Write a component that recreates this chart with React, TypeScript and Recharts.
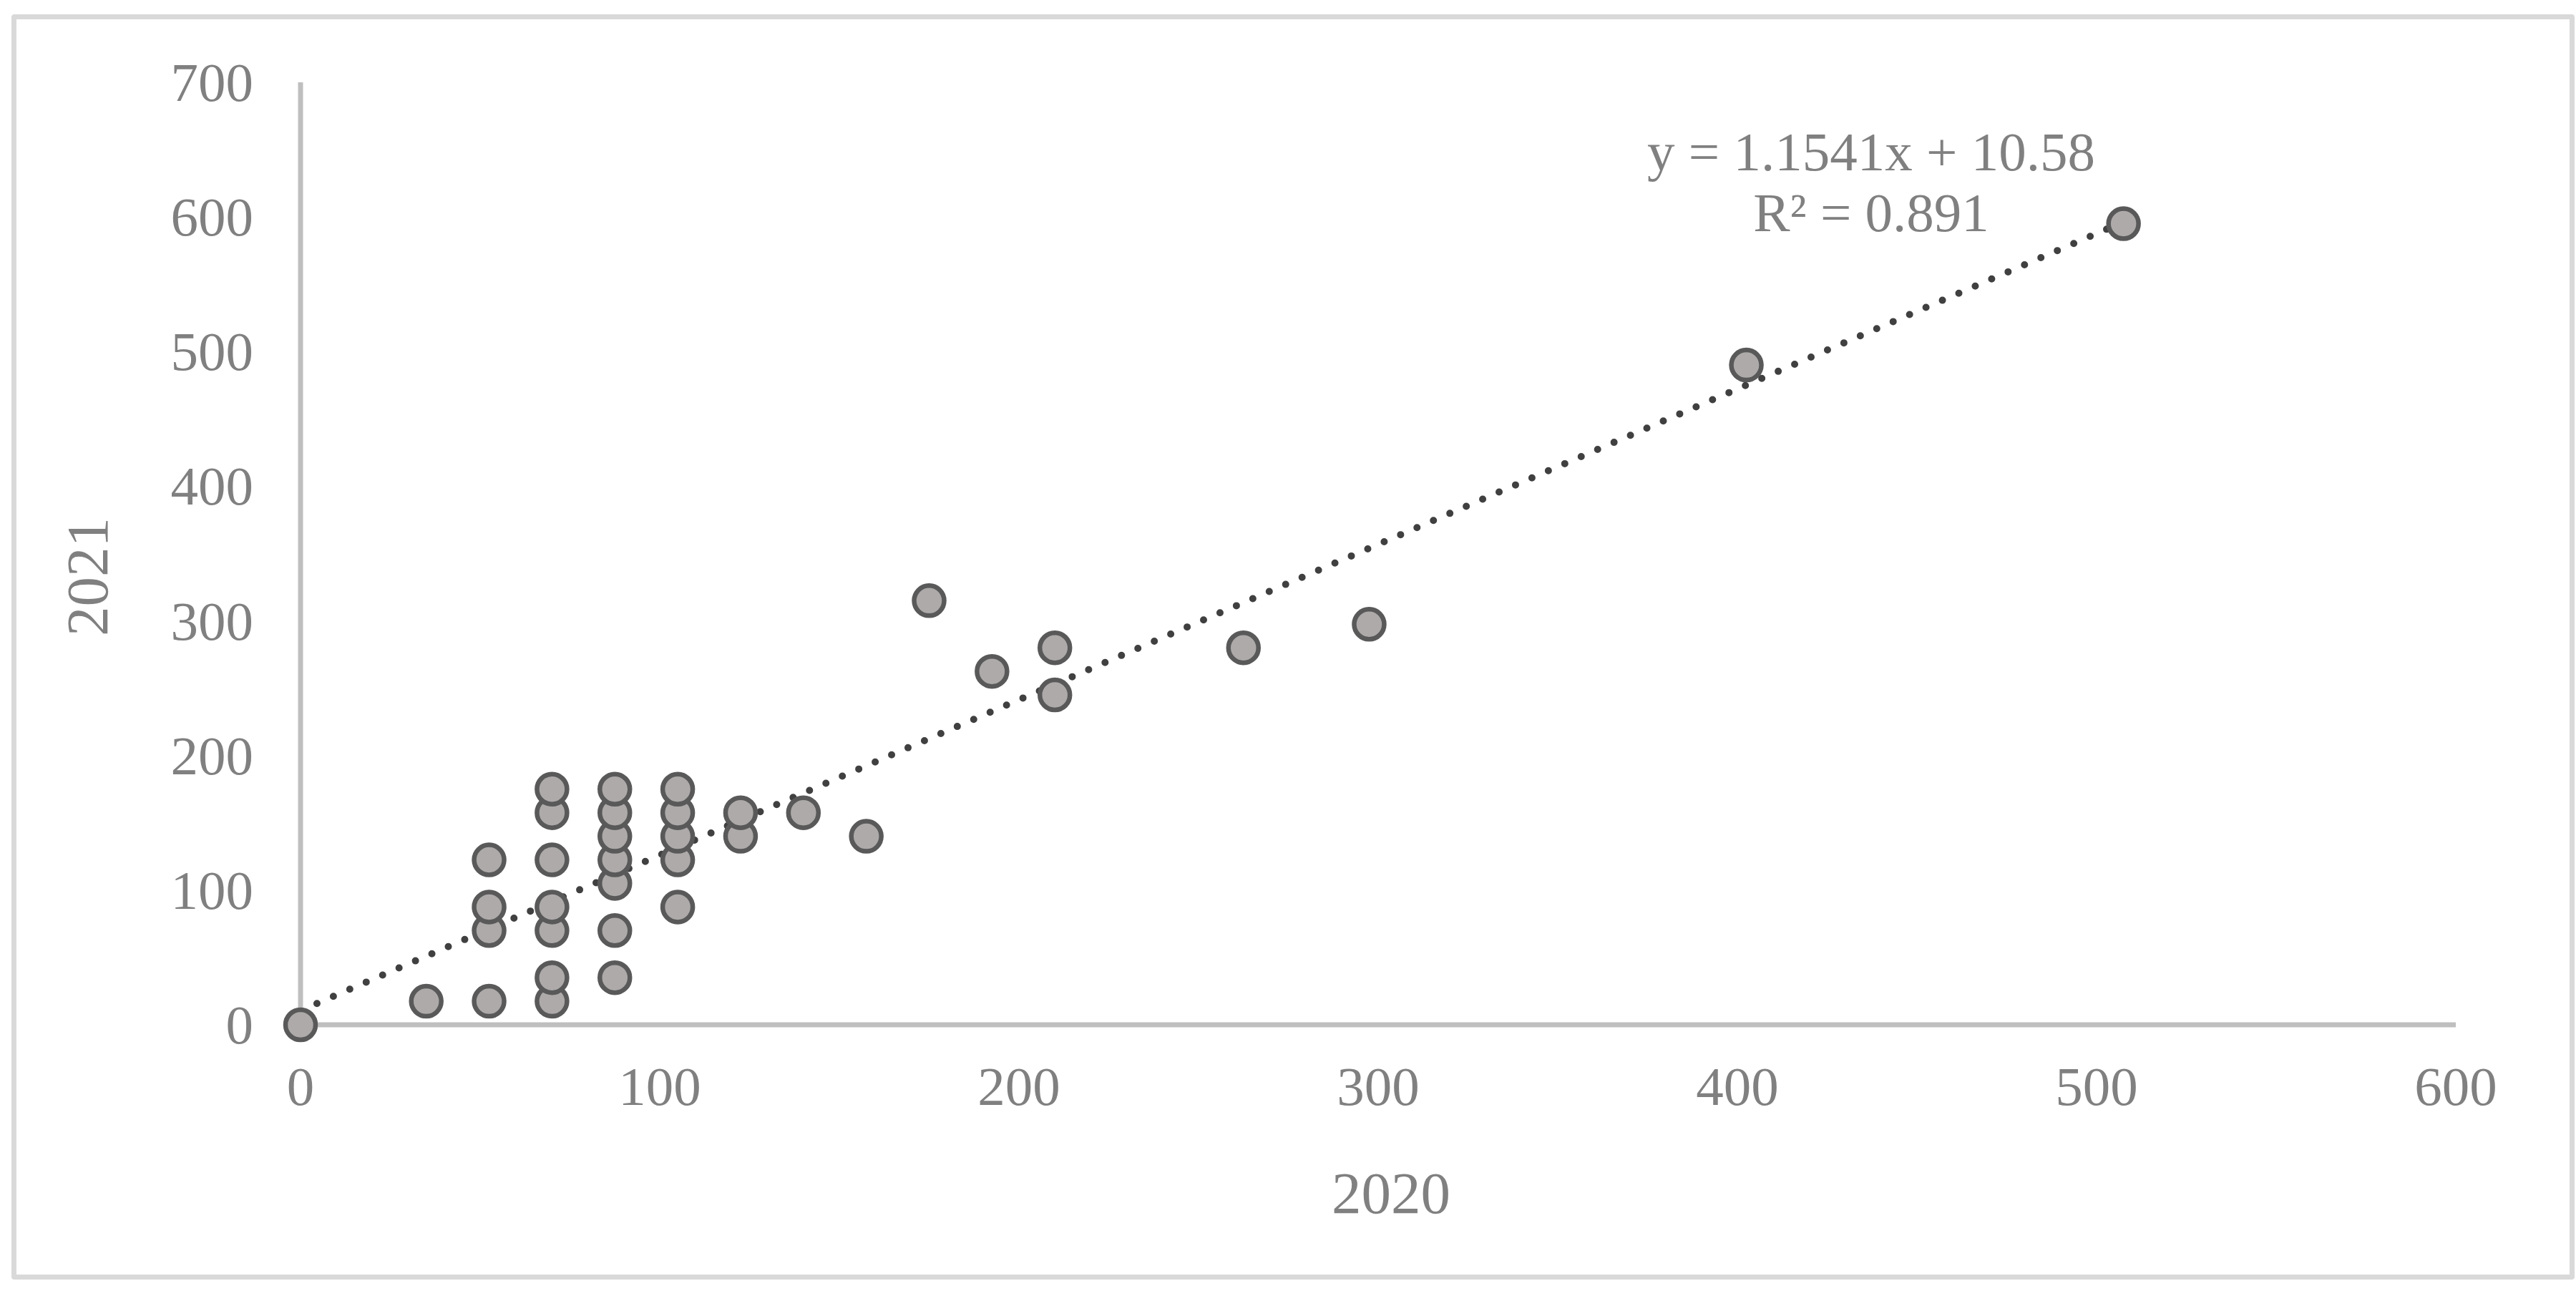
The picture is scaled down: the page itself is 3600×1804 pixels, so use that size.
import { ScatterChart, Scatter, XAxis, YAxis, ReferenceLine } from 'recharts';

// 2020 vs 2021 values (each point is one case)
const x2020 = [
  0, 35,
  52.5, 52.5, 52.5, 52.5,
  70, 70, 70, 70, 70, 70, 70,
  87.5, 87.5, 87.5, 87.5, 87.5, 87.5, 87.5,
  105, 105, 105, 105, 105,
  122.5, 122.5,
  140, 157.5, 175, 192.5, 210, 210, 262.5, 297.5, 402.5, 507.5,
];
const y2021 = [
  0, 17.5,
  17.5, 70, 87.5, 122.5,
  17.5, 35, 70, 87.5, 122.5, 157.5, 175,
  35, 70, 105, 122.5, 140, 157.5, 175,
  87.5, 122.5, 140, 157.5, 175,
  140, 157.5,
  157.5, 140, 315, 262.5, 280, 245, 280, 297.5, 490, 595,
];

const xTicks = [0, 100, 200, 300, 400, 500, 600];
const yTicks = [0, 100, 200, 300, 400, 500, 600, 700];

// trendline as reported on the chart
const slope = 1.1541;
const intercept = 10.58;
const trendText = ['y = 1.1541x + 10.58', 'R² = 0.891'];

const points = x2020.map((x, i) => ({ x, y: y2021[i] }));
const trendStart = Math.min(...x2020);
const trendEnd = Math.max(...x2020);

const FONT = '"Liberation Serif", "Times New Roman", serif';
const GREY_TEXT = '#808080';
const AXIS = '#bfbfbf';

const XTick = ({ x, y, payload }: any) => (
  <text x={x} y={y + 86} textAnchor="middle" dominantBaseline="central"
    fill={GREY_TEXT} fontSize={77} fontFamily={FONT}>{payload.value}</text>
);

const YTick = ({ x, y, payload }: any) => (
  <text x={x - 66} y={y} textAnchor="end" dominantBaseline="central"
    fill={GREY_TEXT} fontSize={77} fontFamily={FONT}>{payload.value}</text>
);

const Marker = (p: any) => (
  <circle cx={p.cx} cy={p.cy} r={21} fill="#aeaaaa" stroke="#595959" strokeWidth={6.5} />
);

export default function App() {
  return (
    <div style={{ position: 'absolute', left: 0, top: 0, width: 3600, height: 1804, background: '#fff' }}>
      <div style={{
        position: 'absolute', left: 16, top: 20, width: 3582, height: 1768,
        border: '7px solid #d9d9d9', borderRadius: 4, boxSizing: 'border-box',
      }} />
      <div style={{ position: 'absolute', left: 0, top: 0 }}>
        <ScatterChart width={3600} height={1804} margin={{ top: 115, right: 168, bottom: 0, left: 0 }}>
          <XAxis
            type="number" dataKey="x" domain={[0, 600]} ticks={xTicks}
            height={372} tickLine={false} tickSize={0} tickMargin={0}
            axisLine={{ stroke: AXIS, strokeWidth: 7 }}
            tick={<XTick />} interval={0}
            label={{
              content: ({ viewBox }: any) => (
                <text x={viewBox.x + viewBox.width / 2 + 18} y={viewBox.y + 235}
                  textAnchor="middle" dominantBaseline="central"
                  fill={GREY_TEXT} fontSize={83} fontFamily={FONT}>2020</text>
              ),
            }}
          />
          <YAxis
            type="number" dataKey="y" domain={[0, 700]} ticks={yTicks}
            width={420} tickLine={false} tickSize={0} tickMargin={0}
            axisLine={{ stroke: AXIS, strokeWidth: 7 }}
            tick={<YTick />} interval={0}
            label={{
              content: () => (
                <text x={122} y={806} textAnchor="middle" dominantBaseline="central"
                  transform="rotate(-90 122 806)"
                  fill={GREY_TEXT} fontSize={83} fontFamily={FONT}>2021</text>
              ),
            }}
          />
          <Scatter data={points} shape={<Marker />} isAnimationActive={false} />
          <ReferenceLine
            segment={[
              { x: trendStart, y: slope * trendStart + intercept },
              { x: trendEnd, y: slope * trendEnd + intercept },
            ]}
            stroke="#404040" strokeWidth={10} strokeDasharray="0 25" strokeLinecap="round"
            ifOverflow="visible"
            label={{
              content: () => (
                <g fill={GREY_TEXT} fontSize={77} fontFamily={FONT}>
                  <text x={2615} y={238} textAnchor="middle">{trendText[0]}</text>
                  <text x={2615} y={323} textAnchor="middle">{trendText[1]}</text>
                </g>
              ),
            }}
          />
        </ScatterChart>
      </div>
    </div>
  );
}
